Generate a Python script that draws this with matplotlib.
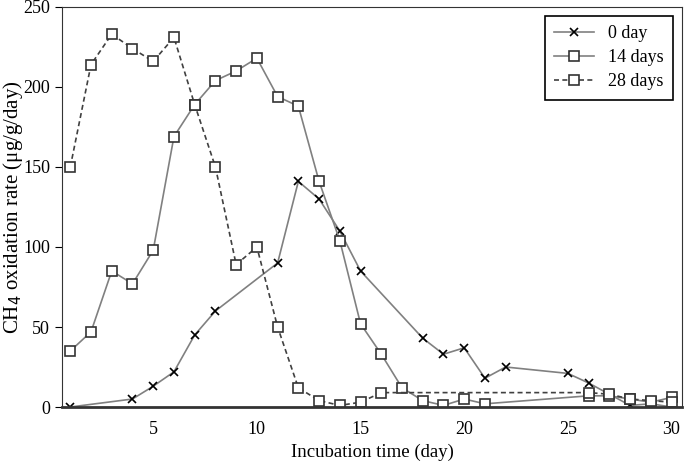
import matplotlib.pyplot as plt

plt.rcParams['font.family'] = ['Liberation Serif', 'DejaVu Serif']

# 0 day
x0 = [1, 4, 5, 6, 7, 8, 11, 12, 13, 14, 15, 18, 19, 20, 21, 22, 25, 26, 28, 29, 30]
y0 = [0, 5, 13, 22, 45, 60, 90, 141, 130, 110, 85, 43, 33, 37, 18, 25, 21, 15, 1, 2, 0]

# 14 days
x14 = [1, 2, 3, 4, 5, 6, 7, 8, 9, 10, 11, 12, 13, 14, 15, 16, 17, 18, 19, 20, 21, 26, 27, 28, 29, 30]
y14 = [35, 47, 85, 77, 98, 169, 189, 204, 210, 218, 194, 188, 141, 104, 52, 33, 12, 4, 1, 5, 2, 7, 7, 5, 3, 6]

# 28 days
x28 = [1, 2, 3, 4, 5, 6, 7, 8, 9, 10, 11, 12, 13, 14, 15, 16, 26, 27, 28, 29, 30]
y28 = [150, 214, 233, 224, 216, 231, 189, 150, 89, 100, 50, 12, 4, 1, 3, 9, 9, 8, 5, 4, 3]

fig = plt.figure(figsize=(6.85, 4.65), dpi=100)
ax = fig.add_axes([0.0905, 0.1247, 0.905, 0.8603])

ax.plot(x0, y0, color='#808080', lw=1.2, marker='x', ms=6, mec='black',
        mew=1.2, label='0 day')
ax.plot(x14, y14, color='#808080', lw=1.2, marker='s', ms=6.5, mfc='white',
        mec='#333333', mew=1.2, label='14 days')
ax.plot(x28, y28, color='#404040', lw=1.2, ls=(0, (3, 2)), marker='s', ms=6.5,
        mfc='white', mec='#333333', mew=1.2, label='28 days')

ax.set_xlim(0.6, 30.5)
ax.set_ylim(0, 250)
ax.set_xticks([5, 10, 15, 20, 25, 30])
ax.set_yticks([0, 50, 100, 150, 200, 250])
ax.tick_params(axis='x', length=0, pad=10, labelsize=13)
ax.tick_params(axis='y', length=5, direction='out', labelsize=13)
for s in ax.spines.values():
    s.set_color('#333333')
ax.spines['bottom'].set_linewidth(2)

ax.set_xlabel('Incubation time (day)', fontsize=13.5)
ax.set_ylabel('CH$_4$ oxidation rate (μg/g/day)', fontsize=15)
ax.yaxis.set_label_coords(-0.06, 0.5)

leg = ax.legend(loc='upper right', fontsize=13, fancybox=False,
                edgecolor='black', framealpha=1, handlelength=2.2,
                borderpad=0.5, labelspacing=0.4)
leg.get_frame().set_linewidth(1.2)

fig.savefig('out.png', dpi=100)
